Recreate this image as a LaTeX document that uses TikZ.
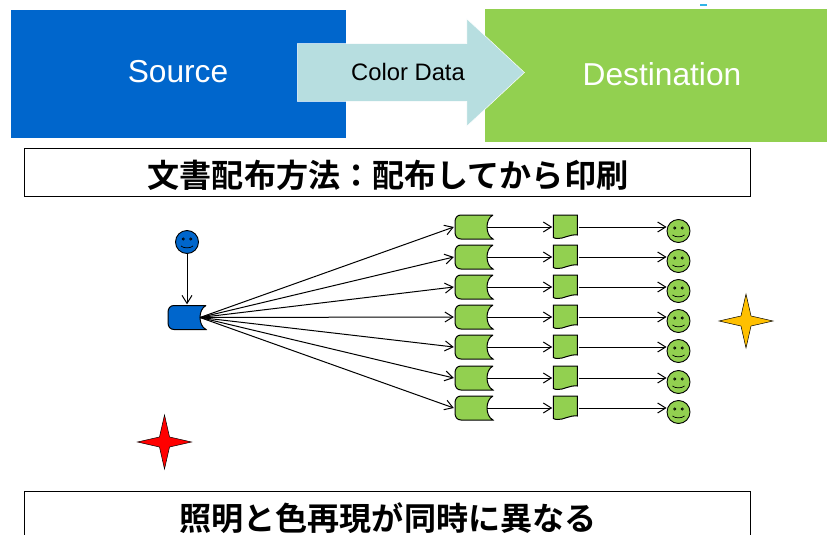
\documentclass[tikz,border=0pt]{standalone}
\usepackage{fontspec}
\setmainfont{Liberation Sans}
\newfontfamily\cjkfont{Noto Sans CJK JP}[BoldFont={* Bold}]
\usetikzlibrary{arrows.meta, positioning, shapes.geometric, shapes.arrows}
\definecolor{colorBlue}{RGB}{0,102,204}
\definecolor{colorGreen}{RGB}{146,208,80}
\definecolor{colorPale}{RGB}{183,222,224}
\definecolor{colorGold}{RGB}{255,192,0}

\begin{document}
\begin{tikzpicture}
	[
	x=1pt, y=-1pt,
	panel/.style={
	    rectangle,
	    inner sep=0pt,
	    font=\fontsize{31.5}{36}\selectfont,
	    text=white
	},
	titulo/.style={
	    rectangle,
	    draw=black,
	    line width=0.75pt,
	    minimum width=726pt,
	    minimum height=48pt,
	    inner sep=0pt,
	    font=\cjkfont\bfseries\fontsize{32.1}{36}\selectfont
	},
	tape/.style={
	    rectangle,
	    minimum width=40pt,
	    minimum height=26pt,
	    inner sep=0pt,
	    path picture={
	        \draw[fill=#1, line width=1pt, shift={(path picture bounding box.center)}]
	            (19,-12) -- (-13,-12) .. controls (-17,-12) and (-19,-9) .. (-19,-5)
	            -- (-19,5) .. controls (-19,9) and (-17,12) .. (-13,12) -- (19,12)
	            .. controls (15,10) and (13,5) .. (13,0) .. controls (13,-5) and (15,-10) .. (19,-12);
	    }
	},
	docu/.style={
	    rectangle,
	    minimum width=26pt,
	    minimum height=26pt,
	    inner sep=0pt,
	    path picture={
	        \draw[fill=#1, line width=1pt, shift={(path picture bounding box.center)}]
	            (-12,-12) -- (12,-12) -- (12,8) .. controls (4,7) and (-2,12) .. (-8,11.5)
	            .. controls (-10,11.5) and (-11,11) .. (-12,10.5) -- cycle;
	    }
	},
	smiley/.style={
	    circle,
	    draw=black,
	    line width=0.9pt,
	    fill=#1,
	    minimum size=23pt,
	    inner sep=0pt,
	    path picture={
	        \begin{scope}[shift={(path picture bounding box.center)}, line width=0.7pt]
	            \draw (-3.7,-3) circle (1.1);
	            \draw (3.7,-3) circle (1.1);
	            \draw (-6,4) .. controls (-3,6.5) and (3,6.5) .. (6,4);
	        \end{scope}
	    }
	},
	estrella/.style={
	    star,
	    star points=4,
	    star point ratio=3.8,
	    minimum size=54pt,
	    inner sep=0pt,
	    draw=black,
	    line width=0.5pt,
	    fill=#1
	},
	flechaDato/.style={
	    -{Straight Barb[length=8pt,width=10pt]},
	    line width=1pt
	}
    ]
    \useasboundingbox (0,0) rectangle (827,535);

    \node(source) [panel, fill=colorBlue, minimum width=335pt, minimum height=128pt] at (178.5,74) {};
    \node[text=white, font=\fontsize{31.7}{36}\selectfont] at (178,72) {Source};
    \node(destination) [panel, fill=colorGreen, minimum width=342pt, minimum height=133pt] at (656,75.5) {};
    \node[text=white, font=\fontsize{31.7}{36}\selectfont] at (662,74) {Destination};
    \node(colorData) [single arrow, fill=colorPale, draw=white, line width=0.5pt, inner sep=0pt,
        minimum width=107pt, single arrow head extend=25pt, single arrow tip angle=86, minimum height=227pt,
        text height=40pt, text depth=17pt, text width=60pt] at (395.5,72.5) {};
    \node[font=\fontsize{23.8}{26}\selectfont] at (408,72) {Color Data};

    \fill[color={rgb,255:red,50;green,180;blue,230}] (700,4) rectangle (707,6);

    \node(tituloUno) [titulo] at (387,172) {};
    \node[font=\cjkfont\bfseries\fontsize{32.1}{36}\selectfont] at (388,175) {文書配布方法：配布してから印刷};
    \node(tituloDos) [titulo] at (387,515) {};
    \node[font=\cjkfont\bfseries\fontsize{32.1}{36}\selectfont] at (388,518) {照明と色再現が同時に異なる};

    \node(autor) [smiley=colorBlue] at (187,242) {};
    \node(cinta) [tape=colorBlue] at (187,317.5) {};
    \draw[flechaDato] (autor)--(cinta);

    \foreach \i/\y in {1/227,2/257,3/287,4/317,5/347,6/378,7/408}{
        \node(tape\i) [tape=colorGreen] at (474,\y) {};
        \node(docu\i) [docu=colorGreen, right=58pt of tape\i] {};
        \node(cara\i) [smiley=colorGreen, at={(678.5,\y+4)}] {};
        \draw[flechaDato] ([xshift=13pt]cinta.center)--(tape\i.west);
        \draw[flechaDato] ([xshift=13pt]tape\i.center)--(docu\i.west);
        \draw[flechaDato] (docu\i.east)--(docu\i -| cara\i.west);
    }

    \node(estrellaOro) [estrella=colorGold] at (746,321) {};
    \node(estrellaRoja) [estrella=red] at (164.5,442) {};
\end{tikzpicture}
\end{document}
